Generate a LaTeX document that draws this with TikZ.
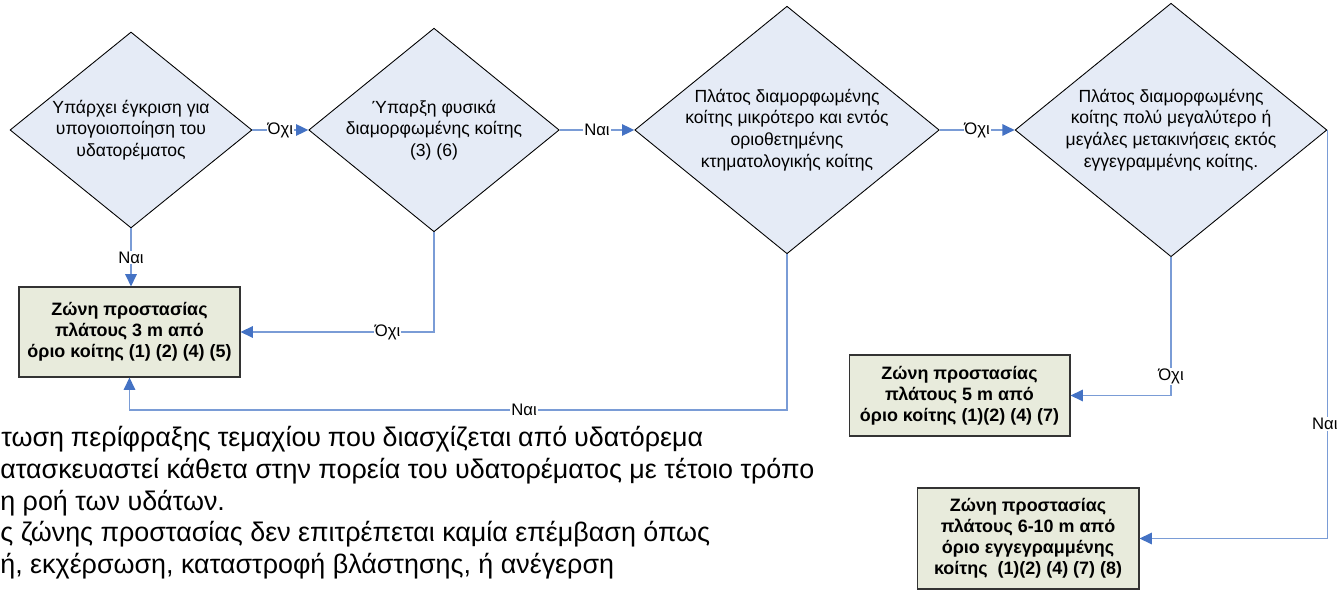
\documentclass[tikz,border=0pt]{standalone}
\usepackage{fontspec}
\setmainfont{Liberation Sans}
\usetikzlibrary{shapes.geometric,arrows.meta}
\definecolor{decfill}{RGB}{229,235,246}
\definecolor{zonefill}{RGB}{232,235,220}
\definecolor{linkblue}{RGB}{122,156,214}
\definecolor{tipblue}{RGB}{68,114,196}

\begin{document}
\begin{tikzpicture}[x=0.02cm, y=-0.02cm,
  q/.style={diamond, aspect=1.23, draw=black, line width=0.5pt, fill=decfill, align=center,
            inner sep=0pt, font=\fontsize{10}{12.4}\selectfont},
  zone/.style={draw=black!80, line width=0.6pt, fill=zonefill, align=center, inner sep=0pt,
               font=\fontsize{10.2}{11.9}\selectfont\bfseries},
  link/.style={draw=linkblue, line width=0.9pt, -{Triangle[length=7pt,width=6.5pt,color=tipblue]}},
  lbl/.style={fill=white, inner sep=0.5pt, font=\fontsize{9.5}{11}\selectfont},
  para/.style={anchor=base west, inner sep=0pt, font=\fontsize{15.3}{17.6}\selectfont},
]
  \path[use as bounding box, clip] (0,0) rectangle (1337,590);

  % decisions
  \node[q, minimum width=4.84cm, minimum height=3.92cm] (q1) at (131,130)
    {Υπάρχει έγκριση για\\υπογοιοποίηση του\\υδατορέματος};
  \node[q, minimum width=4.84cm, minimum height=3.92cm] (q2) at (434,130)
    {Ύπαρξη φυσικά\\διαμορφωμένης κοίτης\\(3) (6)};
  \node[q, minimum width=6.04cm, minimum height=4.9cm] (q3) at (787,130)
    {Πλάτος διαμορφωμένης\\κοίτης μικρότερο και εντός\\οριοθετημένης\\κτηματολογικής κοίτης};
  \node[q, minimum width=6.04cm, minimum height=4.9cm] (q4) at (1171,130)
    {Πλάτος διαμορφωμένης\\κοίτης πολύ μεγαλύτερο ή\\μεγάλες μετακινήσεις εκτός\\εγγεγραμμένης κοίτης.};

  % zones
  \node[zone, minimum width=4.42cm, minimum height=1.8cm] (z1) at (129.5,332)
    {Ζώνη προστασίας\\πλάτους 3 m από\\όριο κοίτης (1) (2) (4) (5)};
  \node[zone, minimum width=4.42cm, minimum height=1.62cm] (z2) at (959.5,395.5)
    {Ζώνη προστασίας\\πλάτους 5 m από\\όριο κοίτης (1)(2) (4) (7)};
  \node[zone, minimum width=4.44cm, minimum height=2.02cm] (z3) at (1028,538.5)
    {Ζώνη προστασίας\\πλάτους 6-10 m από\\όριο εγγεγραμμένης\\κοίτης~~(1)(2) (4) (7) (8)};

  \draw[link] (q1) -- node[lbl] {Όχι} (q2);
  \draw[link] (q2) -- node[lbl] {Ναι} (q3);
  \draw[link] (q3) -- node[lbl] {Όχι} (q4);
  \draw[link] (q1.south) -- node[lbl] {Ναι} (q1.south |- z1.north);
  \draw[link] (q2.south) |- node[lbl, pos=0.62] {Όχι} (z1.east);
  \draw[link] (q3.south) -- ++(0,156) -| node[lbl, pos=0.2] {Ναι} (z1.south);
  \draw[link] (q4.south) |- node[lbl, pos=0.43] {Όχι} (z2.east);
  \draw[link] (q4.east) |- node[lbl, pos=0.36, xshift=-0.5mm] {Ναι} (z3.east);

  % note text, cut at the left edge
  \node[para] (p1) at (1,447) {\makebox[14.04cm][s]{τωση περίφραξης τεμαχίου που διασχίζεται από υδατόρεμα}};
  \node[para] (p2) at (0,478.5) {ατασκευαστεί κάθετα στην πορεία του υδατορέματος με τέτοιο τρόπο};
  \node[para] (p3) at (0,510) {η ροή των υδάτων.};
  \node[para] (p4) at (0,541.5) {ς ζώνης προστασίας δεν επιτρέπεται καμία επέμβαση όπως};
  \node[para] (p5) at (0,573) {ή, εκχέρσωση, καταστροφή βλάστησης, ή ανέγερση};
\end{tikzpicture}
\end{document}
